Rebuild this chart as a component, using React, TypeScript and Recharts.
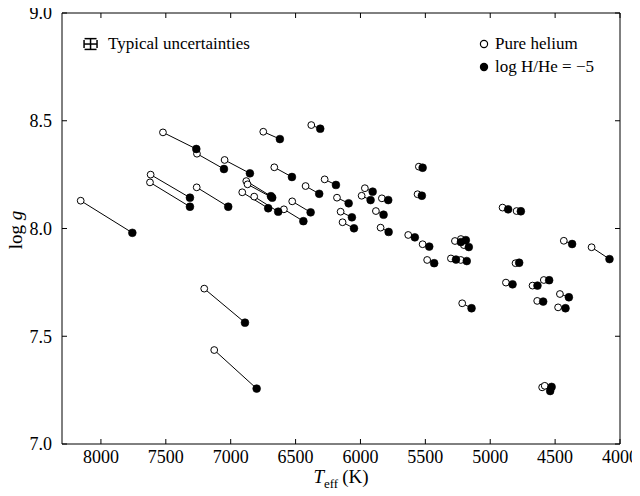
import {
  ScatterChart,
  Scatter,
  XAxis,
  YAxis,
  ErrorBar,
} from "recharts";

// Effective temperature (K) and surface gravity for each star, fitted twice:
// once with pure-helium atmospheres and once with log H/He = -5.
const tPureHe = [
  8156, 7522, 7260, 7047, 7617, 7622, 7262, 6880, 6870, 6911, 6819, 6590,
  6749, 6379, 6664, 6276, 6423, 6526, 6181, 6153, 6138, 5966, 5991, 5835,
  5881, 5845, 5550, 5560, 5632, 5521, 4905, 4797, 5486, 5272, 5226, 5203,
  5303, 5227, 4805, 4433, 4219, 4879, 4674, 4587, 4463, 4638, 5216, 4477,
  4600, 4580, 7204, 7127,
];
const loggPureHe = [
  8.129, 8.446, 8.347, 8.318, 8.25, 8.214, 8.191, 8.22, 8.205, 8.168, 8.148,
  8.089, 8.449, 8.48, 8.284, 8.228, 8.197, 8.126, 8.143, 8.078, 8.029, 8.187,
  8.152, 8.14, 8.081, 8.004, 8.287, 8.159, 7.97, 7.927, 8.097, 8.081, 7.854,
  7.942, 7.951, 7.923, 7.861, 7.854, 7.839, 7.943, 7.913, 7.749, 7.735, 7.761,
  7.696, 7.664, 7.653, 7.634, 7.263, 7.27, 7.721, 7.436,
];
const tMixed = [
  7758, 7265, 7052, 6852, 7314, 7314, 7019, 6690, 6680, 6711, 6634, 6440,
  6621, 6310, 6528, 6189, 6318, 6384, 6091, 6066, 6050, 5906, 5922, 5786,
  5822, 5783, 5521, 5527, 5581, 5470, 4862, 4764, 5432, 5226, 5188, 5165,
  5264, 5181, 4777, 4369, 4081, 4828, 4636, 4546, 4394, 4592, 5144, 4420,
  4527, 4538, 6890, 6800,
];
const loggMixed = [
  7.98, 8.369, 8.276, 8.256, 8.143, 8.101, 8.101, 8.15, 8.143, 8.094, 8.078,
  8.034, 8.415, 8.463, 8.239, 8.202, 8.161, 8.075, 8.117, 8.052, 8.001, 8.171,
  8.132, 8.132, 8.064, 7.984, 8.282, 8.152, 7.959, 7.916, 8.089, 8.08, 7.839,
  7.937, 7.946, 7.914, 7.856, 7.849, 7.841, 7.928, 7.858, 7.741, 7.735, 7.76,
  7.681, 7.661, 7.63, 7.63, 7.265, 7.246, 7.563, 7.257,
];

// typical 1-sigma uncertainties, drawn as a sample error cross in the corner
const typicalErr = { t: 8080, g: 8.856, dt: 50, dg: 0.025 };

const tTicks = [8000, 7500, 7000, 6500, 6000, 5500, 5000, 4500, 4000];
const gTicks = [7.0, 7.5, 8.0, 8.5, 9.0];

const FONT = "'Liberation Serif', 'Times New Roman', 'DejaVu Serif', serif";
const tickStyle = { fill: "#000", fontSize: 18, fontFamily: FONT };
const legendText = {
  position: "absolute" as const,
  fontSize: 17,
  lineHeight: "20px",
  whiteSpace: "nowrap" as const,
};

const pureHe = tPureHe.map((t, i) => ({ t, g: loggPureHe[i] }));
const mixed = tMixed.map((t, i) => ({ t, g: loggMixed[i] }));
const pairs = pureHe.map((p, i) => [p, mixed[i]]);

const OpenDot = (props: any) => (
  <circle cx={props.cx} cy={props.cy} r={3.4} fill="#fff" stroke="#000" strokeWidth={1} />
);
const FilledDot = (props: any) => (
  <circle cx={props.cx} cy={props.cy} r={3.9} fill="#000" stroke="#000" strokeWidth={0.6} />
);
const NoDot = () => <g />;

export default function App() {
  // pull the figure out over the body margin so edge labels are not clipped
  return (
    <div
      style={{
        position: "relative",
        width: 640,
        height: 496,
        margin: "-8px 0 0 -8px",
        fontFamily: FONT,
        color: "#000",
      }}
    >
      <ScatterChart width={640} height={496} margin={{ top: 12, right: 19, bottom: 12, left: 0 }}>
        <XAxis
          xAxisId="b"
          type="number"
          dataKey="t"
          domain={[4000, 8300]}
          allowDataOverflow
          reversed
          ticks={tTicks}
          interval={0}
          height={40}
          tickSize={-5}
          tickMargin={11}
          tick={tickStyle}
          axisLine={{ stroke: "#000" }}
          tickLine={{ stroke: "#000" }}
        />
        <XAxis
          xAxisId="t"
          orientation="top"
          type="number"
          dataKey="t"
          domain={[4000, 8300]}
          allowDataOverflow
          reversed
          ticks={tTicks}
          interval={0}
          height={1}
          tickSize={-5}
          tickFormatter={() => ""}
          axisLine={{ stroke: "#000" }}
          tickLine={{ stroke: "#000" }}
        />
        <YAxis
          yAxisId="l"
          type="number"
          dataKey="g"
          domain={[7, 9]}
          allowDataOverflow
          ticks={gTicks}
          interval={0}
          width={62}
          tickSize={-5}
          tickMargin={15}
          tick={tickStyle}
          tickFormatter={(v: number) => v.toFixed(1)}
          axisLine={{ stroke: "#000" }}
          tickLine={{ stroke: "#000" }}
        />
        <YAxis
          yAxisId="r"
          orientation="right"
          type="number"
          dataKey="g"
          domain={[7, 9]}
          allowDataOverflow
          ticks={gTicks}
          interval={0}
          width={1}
          tickSize={-5}
          tickFormatter={() => ""}
          axisLine={{ stroke: "#000" }}
          tickLine={{ stroke: "#000" }}
        />

        {/* connectors between the two fits of each star */}
        {pairs.map((pair, i) => (
          <Scatter
            key={`pair-${i}`}
            xAxisId="b"
            yAxisId="l"
            data={pair}
            line={{ stroke: "#000", strokeWidth: 1 }}
            shape={NoDot}
            isAnimationActive={false}
          />
        ))}

        <Scatter xAxisId="b" yAxisId="l" data={pureHe} shape={OpenDot} isAnimationActive={false} />
        <Scatter xAxisId="b" yAxisId="l" data={mixed} shape={FilledDot} isAnimationActive={false} />

        <Scatter
          xAxisId="b"
          yAxisId="l"
          data={[typicalErr]}
          shape={NoDot}
          isAnimationActive={false}
        >
          <ErrorBar dataKey="dt" direction="x" width={4} stroke="#000" strokeWidth={1.5} />
          <ErrorBar dataKey="dg" direction="y" width={6} stroke="#000" strokeWidth={1.5} />
        </Scatter>
      </ScatterChart>

      {/* legend */}
      <div style={{ ...legendText, left: 108, top: 34 }}>Typical uncertainties</div>
      <svg style={{ position: "absolute", left: 478, top: 36, overflow: "visible" }} width={14} height={50}>
        <circle cx={6} cy={8} r={3.6} fill="#fff" stroke="#000" strokeWidth={1.2} />
        <circle cx={6} cy={31} r={4.2} fill="#000" />
      </svg>
      <div style={{ ...legendText, left: 495, top: 34 }}>Pure helium</div>
      <div style={{ ...legendText, left: 495, top: 57 }}>log H/He = −5</div>

      {/* axis titles */}
      <div
        style={{
          position: "absolute",
          left: 16,
          top: 230,
          transform: "translate(-50%, -50%) rotate(-90deg)",
          fontSize: 19,
          whiteSpace: "nowrap",
        }}
      >
        log <i>g</i>
      </div>
      <div
        style={{
          position: "absolute",
          left: 341,
          top: 479,
          transform: "translate(-50%, -50%)",
          fontSize: 19,
          whiteSpace: "nowrap",
        }}
      >
        <i>T</i>
        <span style={{ fontSize: 13, verticalAlign: "-0.35em" }}>eff</span>
        <span style={{ marginLeft: 4 }}>(K)</span>
      </div>
    </div>
  );
}
